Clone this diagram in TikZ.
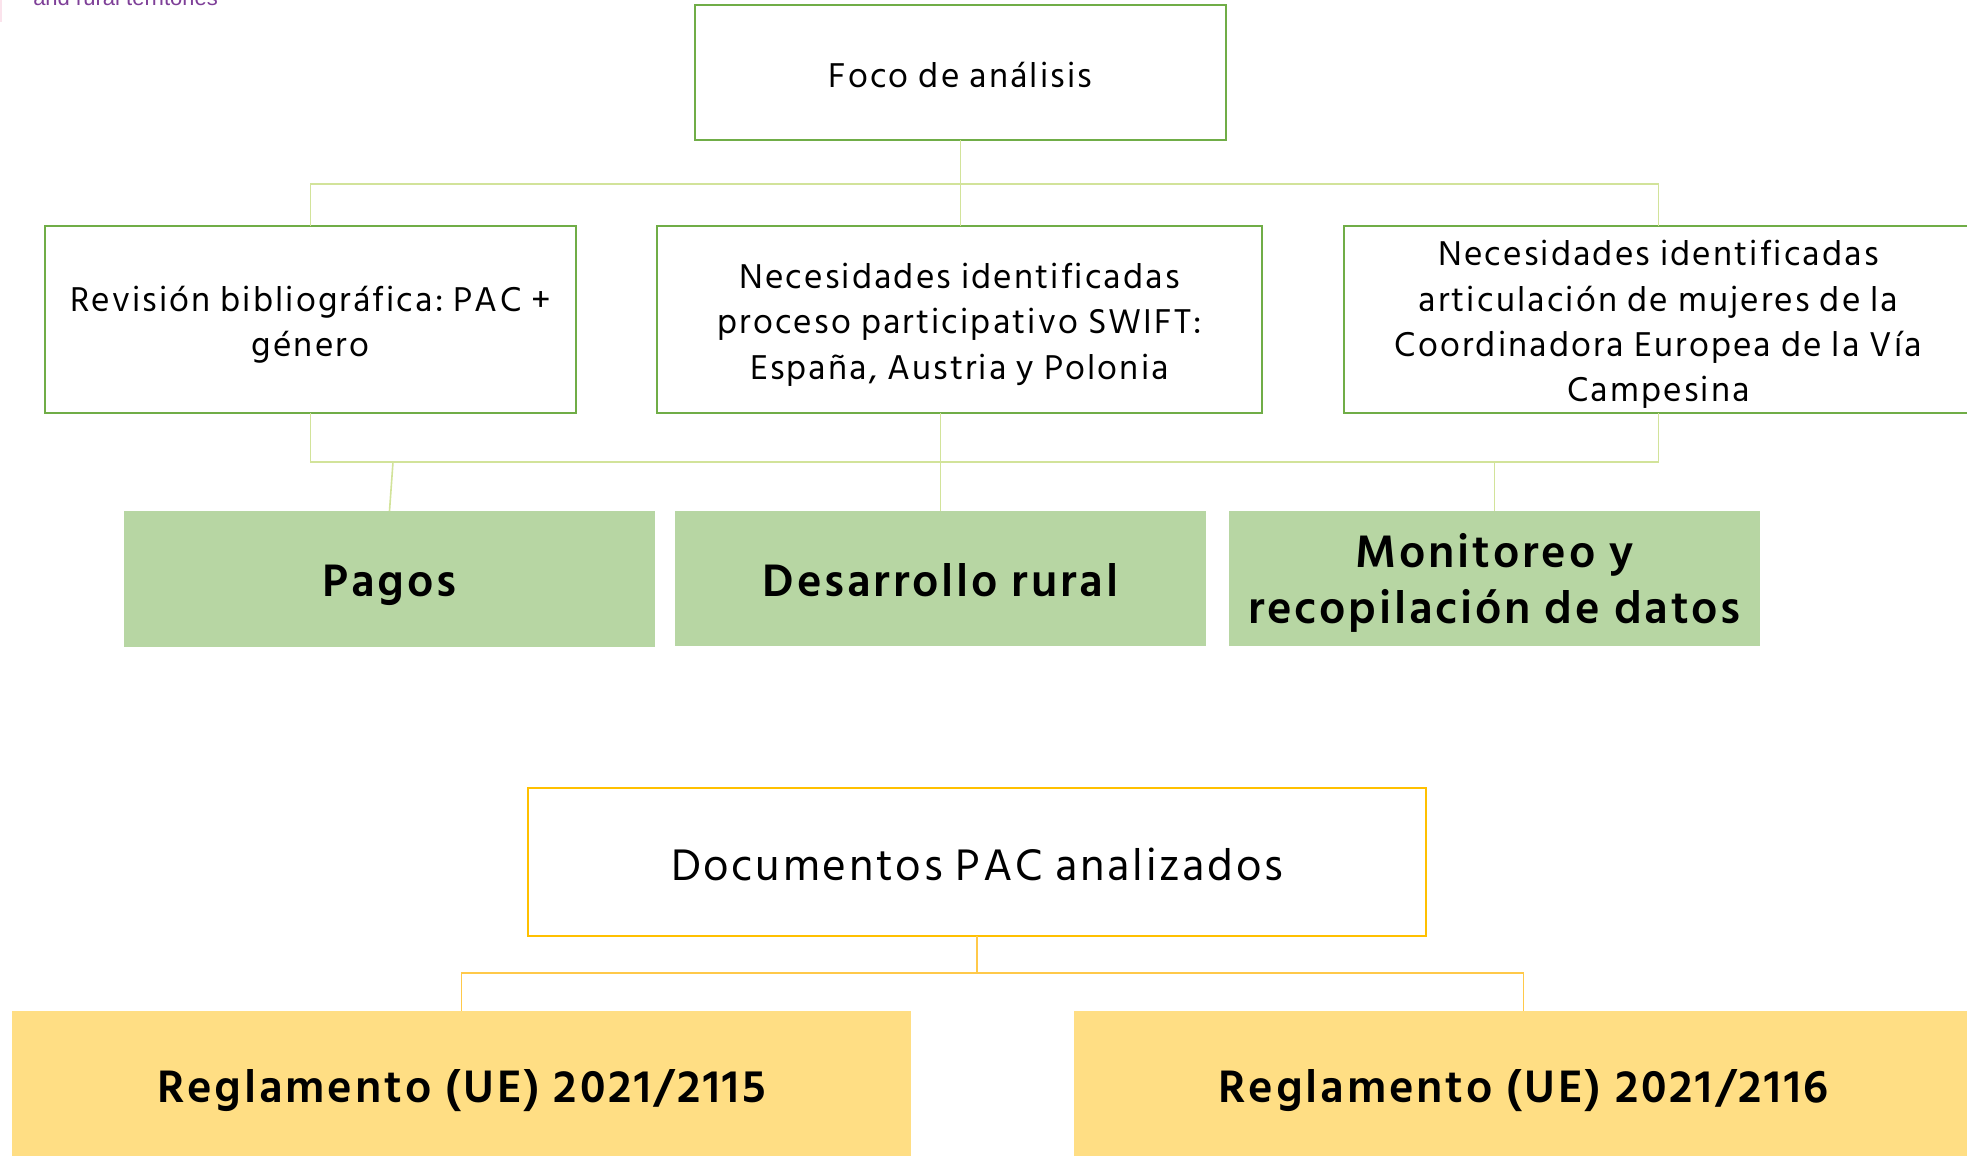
\documentclass[tikz,border=0pt]{standalone}
\usepackage{fontspec}
\setmainfont{Hind Siliguri}[LetterSpace=6]
\newfontfamily\purplefont{Liberation Sans}
\frenchspacing
\definecolor{boxgreen}{HTML}{70AD47}
\definecolor{linegreen}{HTML}{D2E39A}
\definecolor{fillgreen}{HTML}{B7D6A3}
\definecolor{boxgold}{HTML}{FFC000}
\definecolor{linegold}{HTML}{FFC94A}
\definecolor{fillgold}{HTML}{FFDE84}
\definecolor{hdrpurple}{HTML}{7E3F98}
\definecolor{hdrpink}{HTML}{FBE3EC}
\tikzset{
  boxbase/.style={anchor=north west, inner sep=0pt, outer sep=0pt},
  topbox/.style={boxbase, draw=boxgreen, line width=2.2pt, fill=white},
  catbox/.style={boxbase, fill=fillgreen},
  docbox/.style={boxbase, draw=boxgold, line width=2.2pt, fill=white},
  regbox/.style={boxbase, fill=fillgold},
  txt/.style={inner sep=0pt, align=center},
  toptxt/.style={txt, font=\fontsize{26.5}{34}\selectfont},
  cattxt/.style={txt, font=\fontsize{35}{42.5}\selectfont\bfseries},
  doctxt/.style={txt, font=\fontsize{34}{40}\selectfont},
  regtxt/.style={txt, font=\fontsize{35}{42}\selectfont\bfseries},
  gline/.style={draw=linegreen, line width=1.2pt},
  yline/.style={draw=linegold, line width=1.2pt},
}
\begin{document}
\begin{tikzpicture}[x=0.75pt,y=-0.75pt]
\useasboundingbox (0,0) rectangle (1967,1156);
\clip (0,0) rectangle (1967,1156);
\fill[white] (0,0) rectangle (1967,1156);
% header remnant
\fill[hdrpink] (0,0) rectangle (2,22);
\node[anchor=base west, inner sep=0pt, text=hdrpurple, font=\purplefont\fontsize{16.5}{18}\selectfont] (hdr) at (33,6) {and rural territories};
% boxes
\node[topbox, minimum width=531*0.75pt, minimum height=135*0.75pt] (foco) at (695,5) {};
\node[topbox, minimum width=531*0.75pt, minimum height=187*0.75pt] (rev) at (45,226) {};
\node[topbox, minimum width=605*0.75pt, minimum height=187*0.75pt] (swift) at (657,226) {};
\node[topbox, minimum width=629*0.75pt, minimum height=187*0.75pt] (coord) at (1344,226) {};
\node[catbox, minimum width=531*0.75pt, minimum height=136*0.75pt] (pagos) at (124,511) {};
\node[catbox, minimum width=531*0.75pt, minimum height=135*0.75pt] (desa) at (675,511) {};
\node[catbox, minimum width=531*0.75pt, minimum height=135*0.75pt] (moni) at (1229,511) {};
\node[docbox, minimum width=898*0.75pt, minimum height=148*0.75pt] (docs) at (528,788) {};
\node[regbox, minimum width=899*0.75pt, minimum height=150*0.75pt] (reg1) at (12,1011) {};
\node[regbox, minimum width=899*0.75pt, minimum height=150*0.75pt] (reg2) at (1074,1011) {};
% texts
\node[toptxt, yshift=-1.9pt] (focot) at (foco.center) {Foco de análisis};
\node[toptxt, yshift=-3.75pt] (revt) at (rev.center) {Revisión bibliográfica: PAC +\\género};
\node[toptxt, yshift=-3.75pt] (swiftt) at (swift.center) {Necesidades identificadas\\proceso participativo SWIFT:\\España, Austria y Polonia};
\node[toptxt, yshift=-3.75pt] (coordt) at (coord.center) {Necesidades identificadas\\articulación de mujeres de la\\Coordinadora Europea de la Vía\\Campesina};
\node[cattxt, yshift=-4.5pt] (pagost) at (pagos.center) {Pagos};
\node[cattxt, yshift=-1.1pt] (desat) at (desa.center) {Desarrollo rural};
\node[cattxt, yshift=-3.4pt] (monit) at (moni.center) {Monitoreo y\\recopilación de datos};
\node[doctxt, yshift=-1.9pt] (docst) at (docs.center) {Documentos PAC analizados};
\node[regtxt, yshift=-3.75pt] (reg1t) at (reg1.center) {Reglamento (UE) 2021/2115};
\node[regtxt, yshift=-3.75pt] (reg2t) at (reg2.center) {Reglamento (UE) 2021/2116};
% junctions
\coordinate (j1) at (960,184);
\coordinate (j2) at (940,462);
\coordinate (p1) at (393,462);
\coordinate (j3) at (977,973);
% green connectors
\draw[gline] (foco.south) -- (foco.south |- swift.north);
\draw[gline] (rev.north) |- (j1) -| (coord.north);
\draw[gline] (rev.south) |- (j2) -| (coord.south);
\draw[gline] (desa.north |- swift.south) -- (desa.north);
\draw[gline] (p1) -- (pagos.north);
\draw[gline] (moni.north |- j2) -- (moni.north);
% gold connectors
\draw[yline] (docs.south) -- (j3);
\draw[yline] (reg1.north) |- (j3) -| (reg2.north);
\end{tikzpicture}
\end{document}
